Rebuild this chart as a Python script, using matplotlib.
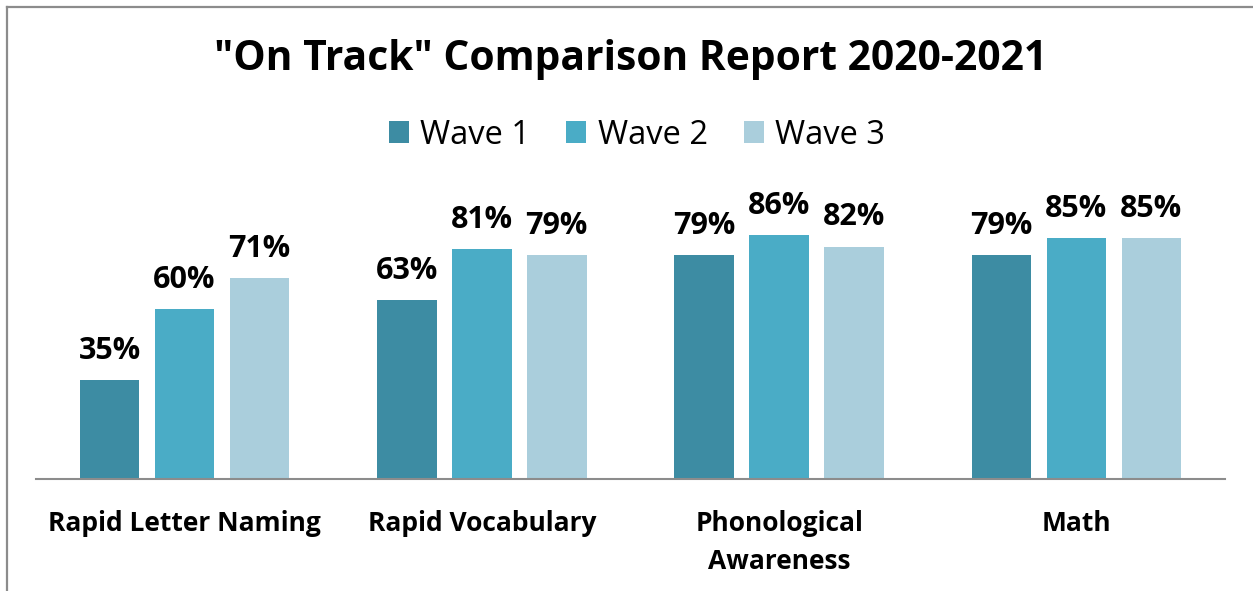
import numpy as np
import matplotlib.pyplot as plt
from matplotlib.lines import Line2D
from matplotlib.patches import Patch

plt.rcParams['font.family'] = ['Open Sans', 'DejaVu Sans']

# ============================================================
# DATOS
# ============================================================
categorias = ["Rapid Letter Naming", "Rapid Vocabulary", "Phonological\nAwareness", "Math"]
series     = ["Wave 1", "Wave 2", "Wave 3"]
wave1      = [35, 63, 79, 79]
wave2      = [60, 81, 86, 85]
wave3      = [71, 79, 82, 85]
colores    = ["#3D8CA3", "#4AACC6", "#AACEDC"]

# ============================================================
# FIGURA
# ============================================================
W, H = 1253, 591
fig = plt.figure(figsize=(W / 100, H / 100), dpi=100)

# eje: x de 36 a 1225 px, base en y=479, 100% -> 283 px
ax = fig.add_axes([36 / W, 1 - 479 / H, (1225 - 36) / W, 283.5 / H])

x = np.arange(len(categorias))
ancho = 0.2
paso = 0.252
for i, (vals, nombre) in enumerate(zip([wave1, wave2, wave3], series)):
    pos = x + (i - 1) * paso
    barras = ax.bar(pos, vals, width=ancho, color=colores[i], label=nombre, zorder=2)
    for b, v in zip(barras, vals):
        ax.text(b.get_x() + b.get_width() / 2, v + 5, f"{v}%", ha="center", va="bottom",
                fontsize=22, fontweight="bold", color="black")

ax.set_xlim(-0.5, len(categorias) - 0.5)
ax.set_ylim(0, 100)
ax.set_yticks([])
ax.set_xticks(x)
ax.set_xticklabels(categorias, fontsize=19, fontweight="bold", linespacing=1.55, va="top")
ax.tick_params(axis="x", length=0, pad=22)
for s in ["top", "right", "left"]:
    ax.spines[s].set_visible(False)
ax.spines["bottom"].set_color("#8C8C8C")
ax.spines["bottom"].set_linewidth(1.5)
ax.patch.set_alpha(0)

# titulo y leyenda
fig.text(631 / W, 1 - 60 / H, '"On Track" Comparison Report 2020-2021', ha="center", va="center",
         fontsize=29.3, fontweight="bold")
handles = [Patch(facecolor=c, edgecolor="none") for c in colores]
fig.legend(handles, series, loc="center", bbox_to_anchor=(637 / W, 1 - 135 / H), ncol=3,
           frameon=False, fontsize=23.5, handlelength=0.62, handleheight=0.62,
           handletextpad=0.35, columnspacing=1.1)

# borde del grafico
fig.add_artist(Line2D([6.5 / W, 6.5 / W], [0, 1 - 6.5 / H], color="#8C8C8C", lw=1.6,
                      transform=fig.transFigure))
fig.add_artist(Line2D([6.5 / W, 1], [1 - 6.5 / H, 1 - 6.5 / H], color="#8C8C8C", lw=1.6,
                      transform=fig.transFigure))

fig.savefig("out.png", dpi=100)
